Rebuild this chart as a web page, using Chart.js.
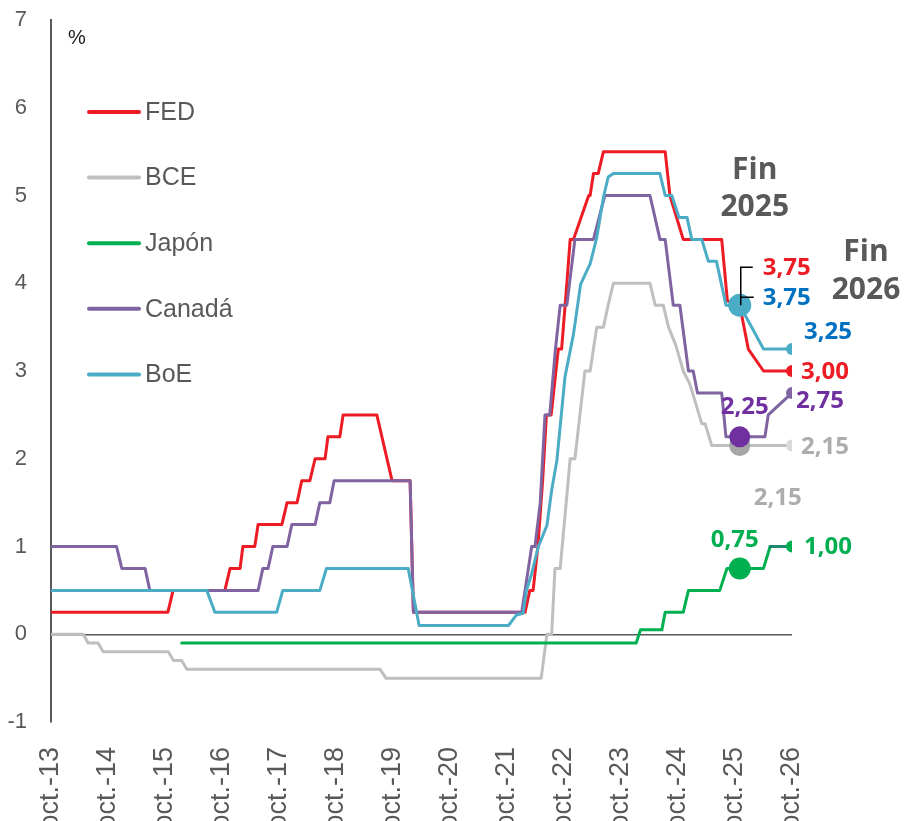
<!DOCTYPE html>
<html lang="es">
<head>
<meta charset="utf-8">
<title>Tipos oficiales de los bancos centrales</title>
<script src="https://cdn.jsdelivr.net/npm/chart.js@4.4.1/dist/chart.umd.min.js"></script>
<style>
    html, body { margin: 0; padding: 0; background: #fff; }
    #chart { display: block; }
</style>
</head>
<body>
<canvas id="chart" width="908" height="821"></canvas>
<script>
// x values are months counted from oct-13
const xLabels = ['oct.-13', 'oct.-14', 'oct.-15', 'oct.-16', 'oct.-17', 'oct.-18', 'oct.-19',
    'oct.-20', 'oct.-21', 'oct.-22', 'oct.-23', 'oct.-24', 'oct.-25', 'oct.-26'];
const yTicks = [-1, 0, 1, 2, 3, 4, 5, 6, 7];
const seriesNames = ['FED', 'BCE', 'Japón', 'Canadá', 'BoE'];

const fedMonths = [0, 24.6, 25.7, 36.6, 37.7, 39.8, 40.4, 42.9, 43.6, 48.6, 49.7, 51.8, 52.8, 54.5, 55.6,
    57.7, 58.3, 60.8, 61.5, 68.6, 71.8, 75.6, 76.3, 99.8, 100.8, 101.5, 102.5, 103.5, 104.3, 105.3,
    106.8, 107.5, 108.6, 109.3, 110, 113.2, 113.5, 114.2, 115.2, 116.3, 129.3, 130.3, 133.1, 141.2,
    142.4, 145, 146.8, 150, 156];
const fedRates = [0.25, 0.25, 0.5, 0.5, 0.75, 0.75, 1, 1, 1.25, 1.25, 1.5, 1.5, 1.75, 1.75, 2,
    2, 2.25, 2.25, 2.5, 2.5, 1.75, 1.75, 0.25, 0.25, 0.5, 0.5, 1, 1.75, 2.5, 2.5,
    3.25, 3.25, 4, 4.5, 4.5, 5, 5, 5.25, 5.25, 5.5, 5.5, 5, 4.5, 4.5,
    3.8, 3.75, 3.25, 3, 3];

const bceMonths = [0, 6.8, 7.8, 9.9, 11, 24.7, 25.8, 27.5, 28.6, 69.3, 70.5, 103.2, 104.4, 105.4,
    106.1, 107.2, 109.3, 110.3, 112.4, 113.5, 114.9, 116.3, 117.3, 118.4, 126.1, 127.2, 128.9,
    130, 131.5, 133.1, 134.5, 137, 137.7, 139.1, 145, 156];
const bceRates = [0, 0, -0.1, -0.1, -0.2, -0.2, -0.3, -0.3, -0.4, -0.4, -0.5, -0.5, 0, 0,
    0.75, 0.75, 2, 2, 3, 3, 3.5, 3.5, 3.75, 4, 4, 3.75, 3.75,
    3.5, 3.3, 3, 2.85, 2.4, 2.4, 2.15, 2.15, 2.15];

const japanMonths = [27.5, 123.2, 124.1, 128.6, 129.3, 133.1, 134.2, 140.8, 142.3, 145, 150, 151.4, 156];
const japanRates = [-0.1, -0.1, 0.05, 0.05, 0.25, 0.25, 0.5, 0.5, 0.75, 0.75, 0.75, 1, 1];

const canadaMonths = [0, 13.8, 14.9, 19.8, 20.8, 43.6, 44.6, 45.7, 46.7, 49.7, 50.7, 55.6, 56.6, 58.7,
    59.6, 75.6, 76.3, 99.1, 101.2, 101.9, 103, 104, 105, 106.2, 107.2, 108.6, 110.3, 114.2, 116.6,
    126.1, 128.2, 129.3, 131, 132.4, 134.2, 135.2, 136.1, 141.2, 142.1, 145, 150.3, 151, 156];
const canadaRates = [1, 1, 0.75, 0.75, 0.5, 0.5, 0.75, 0.75, 1, 1, 1.25, 1.25, 1.5, 1.5,
    1.75, 1.75, 0.25, 0.25, 1, 1, 1.5, 2.5, 2.5, 3.25, 3.75, 3.75, 4.5, 4.5, 5,
    5, 4.5, 4.5, 3.75, 3.75, 3, 3, 2.75, 2.75, 2.25, 2.25, 2.25, 2.5, 2.75];

const boeMonths = [0, 32.8, 34.5, 47.5, 48.8, 56.6, 58, 75.2, 77.5, 96.3, 98, 99.4, 100.1, 101.2,
    102.6, 104.4, 105.4, 106.5, 108.2, 110, 111.5, 113.5, 114.9, 116.3, 117.3, 118.4, 128.2,
    129.3, 130.7, 132.2, 133.9, 134.9, 137, 138.4, 140.1, 142.1, 145, 150, 156];
const boeRates = [0.5, 0.5, 0.25, 0.25, 0.5, 0.5, 0.75, 0.75, 0.1, 0.1, 0.22, 0.24, 0.5, 0.69,
    1, 1.24, 1.64, 1.98, 2.93, 3.42, 3.99, 4.22, 4.52, 4.98, 5.21, 5.25, 5.25,
    5, 5, 4.75, 4.75, 4.5, 4.5, 4.25, 4.25, 3.75, 3.75, 3.25, 3.25];

// end 2025 and end 2026 marks, same order as seriesNames
const finMonths = [145, 156];
const fin2025 = [3.75, 2.15, 0.75, 2.25, 3.75];
const fin2026 = [3.00, 2.15, 1.00, 2.75, 3.25];

const lineColors = ['#ED1C24', '#BFBFBF', '#00B050', '#8064A2', '#4BACC6'];
const dot2025Colors = ['#ED1C24', '#A6A6A6', '#00B050', '#7030A0', '#4BACC6'];
const dot2026Colors = ['#ED1C24', '#D9D9D9', '#00B050', '#8064A2', '#4BACC6'];
const labelColors = ['#ED1C24', '#ADADAD', '#00B050', '#7030A0', '#0070C0'];

const seriesMonths = [fedMonths, bceMonths, japanMonths, canadaMonths, boeMonths];
const seriesRates = [fedRates, bceRates, japanRates, canadaRates, boeRates];

// label offsets from each mark, in pixels
const offsets2025 = [[47, -37], [38, 53], [-5, -28], [5, -30], [47, -7]];
const offsets2026 = [[33, 1], [33, 2], [36, 1], [28, 8], [36, -17]];

const fmt = (v) => v.toFixed(2).replace('.', ',');
const toPoints = (months, rates) => months.map((m, i) => ({ x: m, y: rates[i] }));

const lineDatasets = seriesNames.map((name, i) => ({
    label: name,
    data: toPoints(seriesMonths[i], seriesRates[i]),
    borderColor: lineColors[i],
    borderWidth: 3,
    borderJoinStyle: 'round',
    borderCapStyle: 'round',
    pointRadius: 0,
    tension: 0,
    order: 5 - i,
    segment: name === 'Japón'
        ? { borderColor: (c) => (c.p0.parsed.x >= 151 ? '#1E8770' : undefined) }
        : undefined,
}));

const dotDatasets = [
    {
        label: 'Fin 2026',
        data: fin2026.map((v) => ({ x: finMonths[1], y: v })),
        showLine: false,
        pointRadius: 6,
        pointHoverRadius: 6,
        pointBackgroundColor: dot2026Colors,
        pointBorderWidth: 0,
        order: 0,
    },
    {
        label: 'Fin 2025',
        data: fin2025.map((v) => ({ x: finMonths[0], y: v })),
        showLine: false,
        pointRadius: [10.5, 10.5, 11, 10.5, 11.5],
        pointHoverRadius: 11,
        pointBackgroundColor: dot2025Colors,
        pointBorderWidth: 0,
        order: 0,
    },
];

// legend, value labels and the "Fin" captions
const overlay = {
    id: 'overlay',
    afterDatasetsDraw(chart) {
        const { ctx, scales: { x, y } } = chart;
        ctx.save();

        // legend inside the plot
        seriesNames.forEach((name, i) => {
            const ly = 112 + i * 65.6;
            ctx.strokeStyle = lineColors[i];
            ctx.lineWidth = 4;
            ctx.lineCap = 'round';
            ctx.beginPath();
            ctx.moveTo(89, ly);
            ctx.lineTo(139, ly);
            ctx.stroke();
            ctx.fillStyle = '#595959';
            ctx.font = '25px "Liberation Sans", Arial, sans-serif';
            ctx.textAlign = 'left';
            ctx.textBaseline = 'middle';
            ctx.fillText(name, 145, ly + 1);
        });

        // unit
        ctx.fillStyle = '#1a1a1a';
        ctx.font = '20px "Liberation Sans", Arial, sans-serif';
        ctx.fillText('%', 68, 38);

        // values at end 2025 / end 2026
        ctx.font = 'bold 24px "Open Sans", sans-serif';
        ctx.textAlign = 'center';
        const x25 = x.getPixelForValue(finMonths[0]);
        const x26 = x.getPixelForValue(finMonths[1]);
        fin2025.forEach((v, i) => {
            ctx.fillStyle = labelColors[i];
            ctx.fillText(fmt(v), x25 + offsets2025[i][0], y.getPixelForValue(v) + offsets2025[i][1]);
        });
        fin2026.forEach((v, i) => {
            ctx.fillStyle = labelColors[i];
            ctx.fillText(fmt(v), x26 + offsets2026[i][0], y.getPixelForValue(v) + offsets2026[i][1]);
        });

        // bracket joining the two 3,75 labels
        const yb = y.getPixelForValue(fin2025[0]);
        ctx.strokeStyle = '#000';
        ctx.lineWidth = 1.5;
        ctx.lineCap = 'butt';
        ctx.beginPath();
        ctx.moveTo(x25 + 13, yb - 38);
        ctx.lineTo(x25 + 1, yb - 38);
        ctx.lineTo(x25 + 1, yb);
        ctx.moveTo(x25 + 1, yb - 8);
        ctx.lineTo(x25 + 14, yb - 8);
        ctx.stroke();

        // captions
        ctx.fillStyle = '#595959';
        ctx.font = 'bold 30px "Open Sans", sans-serif';
        ctx.fillText('Fin', x25 + 15, 170);
        ctx.fillText('2025', x25 + 15, 207);
        ctx.fillText('Fin', x26 + 74, 252);
        ctx.fillText('2026', x26 + 74, 290);

        ctx.restore();
    },
};

Chart.defaults.font.family = '"Liberation Sans", Arial, sans-serif';
Chart.defaults.color = '#595959';

const ctx = document.getElementById('chart').getContext('2d');
const chart = new Chart(ctx, {
    type: 'line',
    data: { datasets: [...lineDatasets, ...dotDatasets] },
    options: {
        responsive: false,
        animation: false,
        devicePixelRatio: 1,
        layout: { autoPadding: false, padding: { top: 20, right: 116, left: 0, bottom: 0 } },
        plugins: {
            legend: { display: false },
            tooltip: { enabled: false },
        },
        scales: {
            x: {
                type: 'linear',
                min: 0,
                max: 156,
                grid: { display: false },
                border: { display: false },
                afterFit: (scale) => { scale.height = 99; },
                afterBuildTicks: (scale) => {
                    scale.ticks = xLabels.map((_, i) => ({ value: i * 12 }));
                },
                ticks: {
                    autoSkip: false,
                    minRotation: 90,
                    maxRotation: 90,
                    padding: 17,
                    color: '#595959',
                    font: { size: 27 },
                    callback: (v, i) => xLabels[i],
                },
            },
            y: {
                min: yTicks[0],
                max: yTicks[yTicks.length - 1],
                afterFit: (scale) => {
                    scale.width = 51;
                    // keep the plot top at the layout padding
                    scale.paddingTop = 0;
                    scale.paddingBottom = 0;
                },
                afterBuildTicks: (scale) => {
                    scale.ticks = yTicks.map((v) => ({ value: v }));
                },
                grid: {
                    drawTicks: false,
                    color: (c) => (c.tick && c.tick.value === 0 ? '#595959' : 'rgba(0,0,0,0)'),
                    lineWidth: 1.5,
                },
                border: { display: true, color: '#595959', width: 2 },
                ticks: {
                    padding: 24,
                    color: '#595959',
                    font: { size: 22 },
                },
            },
        },
    },
    plugins: [overlay],
});
</script>
</body>
</html>
